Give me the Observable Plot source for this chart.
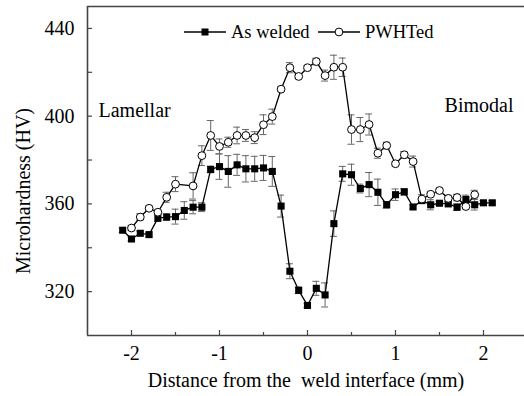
<!DOCTYPE html>
<html>
<head>
<meta charset="utf-8">
<script src="https://cdn.jsdelivr.net/npm/d3@7"></script>
<script src="https://cdn.jsdelivr.net/npm/@observablehq/plot@0.6"></script>
<style>
  html, body { margin: 0; padding: 0; background: #fff; overflow: hidden; }
  svg, svg text { font-family: 'Liberation Serif', 'Times New Roman', Times, 'DejaVu Serif', serif !important; }
</style>
</head>
<body>
<div id="chart"></div>
<script>
// ---- data ----
const weldedDistance = [-2.1,-2.0,-1.9,-1.8,-1.7,-1.6,-1.5,-1.4,-1.3,-1.2,-1.1,-1.0,-0.9,-0.8,-0.7,-0.6,-0.5,-0.4,-0.3,-0.2,-0.1,0.0,0.1,0.2,0.3,0.4,0.5,0.6,0.7,0.8,0.9,1.0,1.1,1.2,1.3,1.4,1.5,1.6,1.7,1.8,1.9,2.0,2.1];
const weldedHV = [348,344,346.6,346,353.5,354,354.2,357,358.5,358.5,375.7,377,374.8,377.8,376,376,376.4,374.8,359,329.3,320.6,313.7,321.5,318.5,351,373.7,373.3,367,368.8,365.3,359.6,364.2,365.5,358.6,361.5,359.6,360.3,360,358.5,362,359.6,360.5,360.5];
const weldedErr = [1,1,1,1,1.5,1.5,3.4,4,3,2,1.5,5.8,7.2,4.8,6,5.7,5.7,6.8,5,3.4,1.5,1,3.2,5.5,5.8,3.4,4.8,2,5.5,6,1.5,2.6,1.5,1,1,2.3,1,1,1.5,2,2.4,1,1];

const pwhtDistance = [-2.0,-1.9,-1.8,-1.7,-1.6,-1.5,-1.3,-1.2,-1.1,-1.0,-0.9,-0.8,-0.7,-0.6,-0.5,-0.4,-0.3,-0.2,-0.1,0.0,0.1,0.2,0.3,0.4,0.5,0.6,0.7,0.8,0.9,1.0,1.1,1.2,1.3,1.4,1.5,1.6,1.7,1.8,1.9];
const pwhtHV = [349,354,358,356.2,363,369,368.2,382,391.2,386.2,388.1,391.2,391.2,390.2,396.1,399.8,412.3,422.1,418.1,422.1,424.9,418.5,422.3,422.3,393.9,393.9,396.2,383.1,386.6,378.3,382.4,379.3,362.2,364.4,366.1,362.5,362.9,358.8,364.2];
const pwhtErr = [1,1.5,1,1,2.3,3.4,6,4.5,6.8,3.4,2.3,3.8,2.7,2.7,4.5,3.4,1,2.3,1,1,1.5,2.5,5.5,4.2,6.7,5.5,4.8,2.3,1.5,1,1.5,2.5,2,1,1,1.5,1.5,1,2];

const xTicksMajor = [-2, -1, 0, 1, 2];
const xTicksMinor = [-1.5, -0.5, 0.5, 1.5];
const yTicksMajor = [320, 360, 400, 440];
const yTicksMinor = [340, 380, 420];
const xDomain = [-2.5, 2.466];
const yDomain = [300, 450];

const seriesNames = ["As welded", "PWHTed"];
const regionLabels = ["Lamellar", "Bimodal"];

const welded = weldedDistance.map((x, i) => ({x, y: weldedHV[i], e: weldedErr[i]}));
const pwht = pwhtDistance.map((x, i) => ({x, y: pwhtHV[i], e: pwhtErr[i]}));

const W = 524, H = 396;
const mL = 87, mR = 0, mT = 6, mB = 61;
const plotW = W - mL - mR, plotH = H - mT - mB;
const font = "'Liberation Serif', 'Times New Roman', Times, 'DejaVu Serif', serif";
const frameColor = "#444";
const errColor = "#666";

function errorMarks(data) {
  return [
    Plot.ruleX(data, {x: "x", y1: d => d.y - d.e, y2: d => d.y + d.e, stroke: errColor, strokeWidth: 1}),
    Plot.ruleY(data, {y: d => d.y + d.e, x1: "x", x2: "x", insetLeft: -3.5, insetRight: -3.5, stroke: errColor, strokeWidth: 1}),
    Plot.ruleY(data, {y: d => d.y - d.e, x1: "x", x2: "x", insetLeft: -3.5, insetRight: -3.5, stroke: errColor, strokeWidth: 1})
  ];
}

const chart = Plot.plot({
  width: W, height: H,
  marginLeft: mL, marginRight: mR, marginTop: mT, marginBottom: mB,
  style: {fontFamily: font, fontSize: "20px", background: "#fff", color: "#000", overflow: "hidden"},
  x: {domain: xDomain},
  y: {domain: yDomain},
  marks: [
    Plot.ruleX([xDomain[0]], {stroke: frameColor, strokeWidth: 1.6}),
    Plot.ruleY(yDomain, {stroke: frameColor, strokeWidth: 1.6}),
    Plot.ruleY(yTicksMajor, {stroke: frameColor, strokeWidth: 1.2, insetRight: plotW - 5}),
    Plot.ruleY(yTicksMinor, {stroke: frameColor, strokeWidth: 1.2, insetRight: plotW - 5}),
    Plot.ruleX(xTicksMajor, {stroke: frameColor, strokeWidth: 1.2, insetTop: plotH - 5}),
    Plot.ruleX(xTicksMinor, {stroke: frameColor, strokeWidth: 1.2, insetTop: plotH - 3}),
    Plot.axisX({ticks: xTicksMajor, tickSize: 0, tickPadding: 10, tickFormat: d => String(d), fontSize: 20, label: null}),
    Plot.axisY({ticks: yTicksMajor, tickSize: 0, tickPadding: 13, tickFormat: d => String(d), fontSize: 20, label: null}),
    ...errorMarks(welded),
    ...errorMarks(pwht),
    Plot.line(welded, {x: "x", y: "y", stroke: "#000", strokeWidth: 1.3}),
    Plot.line(pwht, {x: "x", y: "y", stroke: "#000", strokeWidth: 1.3}),
    Plot.dot(welded, {x: "x", y: "y", symbol: "square", r: 4, fill: "#000", stroke: "none"}),
    Plot.dot(pwht, {x: "x", y: "y", symbol: "circle", r: 3.9, fill: "#fff", stroke: "#000", strokeWidth: 1}),
    Plot.text([regionLabels[0]], {frameAnchor: "top-left", dx: 11, dy: 104, textAnchor: "start", lineAnchor: "middle", fontSize: 20, fill: "#000"}),
    Plot.text([regionLabels[1]], {frameAnchor: "top-right", dx: -11, dy: 99, textAnchor: "end", lineAnchor: "middle", fontSize: 20, fill: "#000"})
  ]
});

const svg = d3.select(chart);
const lg = svg.append("g").attr("font-size", 18.5).attr("text-anchor", "start");
lg.append("line").attr("x1", 184).attr("x2", 226).attr("y1", 32).attr("y2", 32).attr("stroke", "#000").attr("stroke-width", 1.3);
lg.append("rect").attr("x", 201.5).attr("y", 28.5).attr("width", 7).attr("height", 7).attr("fill", "#000");
lg.append("text").attr("x", 231).attr("y", 32).attr("dy", "0.35em").attr("text-anchor", "start").text(seriesNames[0]);
lg.append("line").attr("x1", 318).attr("x2", 360).attr("y1", 32).attr("y2", 32).attr("stroke", "#000").attr("stroke-width", 1.3);
lg.append("circle").attr("cx", 339).attr("cy", 32).attr("r", 3.9).attr("fill", "#fff").attr("stroke", "#000");
lg.append("text").attr("x", 365).attr("y", 32).attr("dy", "0.35em").attr("text-anchor", "start").text(seriesNames[1]);

svg.append("text")
  .attr("x", 306).attr("y", 387)
  .attr("text-anchor", "middle").attr("font-size", 20)
  .style("white-space", "pre")
  .text("Distance from the  weld interface (mm)");
svg.append("text")
  .attr("transform", "translate(30,191) rotate(-90)")
  .attr("text-anchor", "middle").attr("font-size", 20)
  .text("Microhardness (HV)");

document.getElementById("chart").appendChild(chart);
</script>
</body>
</html>
